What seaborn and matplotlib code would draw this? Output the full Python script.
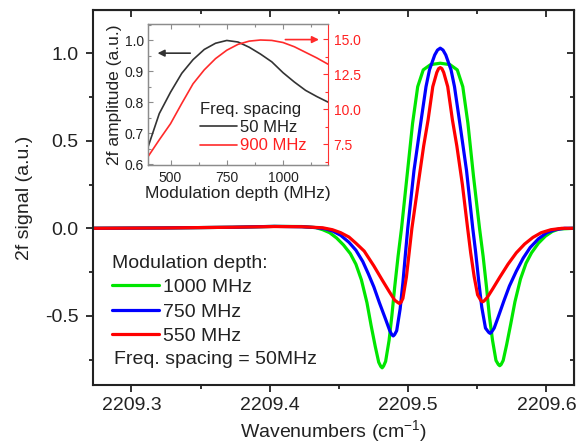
import matplotlib
matplotlib.use('Agg')
import matplotlib.pyplot as plt
import seaborn as sns
from matplotlib.ticker import MultipleLocator, FormatStrFormatter

# main panel: 2f signal vs wavenumber, one curve per modulation depth
wn_1000 = [2209.2700, 2209.3233, 2209.3733, 2209.4033, 2209.4233, 2209.4333, 2209.4383, 2209.4433,
           2209.4483, 2209.4533, 2209.4583, 2209.4623, 2209.4663, 2209.4703, 2209.4733, 2209.4763,
           2209.4788, 2209.4803, 2209.4813, 2209.4823, 2209.4838, 2209.4863, 2209.4883, 2209.4903,
           2209.4928, 2209.4953, 2209.4993, 2209.5033, 2209.5070, 2209.5110, 2209.5163, 2209.5233,
           2209.5303, 2209.5356, 2209.5396, 2209.5433, 2209.5473, 2209.5517, 2209.5543, 2209.5568,
           2209.5588, 2209.5611, 2209.5636, 2209.5653, 2209.5663, 2209.5673, 2209.5688, 2209.5713,
           2209.5743, 2209.5773, 2209.5813, 2209.5853, 2209.5893, 2209.5943, 2209.5993, 2209.6043,
           2209.6093, 2209.6200]
sig_1000 = [0.000, 0.002, 0.006, 0.011, 0.010, 0.004, -0.008, -0.025,
            -0.055, -0.095, -0.145, -0.205, -0.295, -0.425, -0.555, -0.675,
            -0.765, -0.789, -0.797, -0.787, -0.760, -0.640, -0.500, -0.340,
            -0.160, 0.000, 0.300, 0.600, 0.809, 0.905, 0.935, 0.943,
            0.935, 0.905, 0.809, 0.600, 0.300, 0.000, -0.160, -0.340,
            -0.500, -0.640, -0.755, -0.778, -0.785, -0.778, -0.755, -0.665,
            -0.545, -0.420, -0.290, -0.200, -0.140, -0.085, -0.045, -0.018,
            -0.004, 0.000]

wn_750 = [2209.2700, 2209.3233, 2209.3733, 2209.4033, 2209.4233, 2209.4333, 2209.4403, 2209.4453,
          2209.4513, 2209.4573, 2209.4623, 2209.4673, 2209.4713, 2209.4753, 2209.4793, 2209.4838,
          2209.4868, 2209.4883, 2209.4893, 2209.4903, 2209.4918, 2209.4943, 2209.4963, 2209.4983,
          2209.4998, 2209.5043, 2209.5095, 2209.5130, 2209.5155, 2209.5193, 2209.5213, 2209.5233,
          2209.5253, 2209.5273, 2209.5311, 2209.5336, 2209.5371, 2209.5423, 2209.5468, 2209.5488,
          2209.5511, 2209.5533, 2209.5560, 2209.5583, 2209.5593, 2209.5603, 2209.5623, 2209.5653,
          2209.5693, 2209.5733, 2209.5783, 2209.5833, 2209.5883, 2209.5943, 2209.6003, 2209.6063,
          2209.6133, 2209.6200]
sig_750 = [0.000, 0.002, 0.006, 0.011, 0.009, 0.004, -0.003, -0.015,
           -0.040, -0.080, -0.125, -0.190, -0.260, -0.335, -0.425, -0.520,
           -0.585, -0.608, -0.615, -0.607, -0.585, -0.460, -0.310, -0.130,
           0.000, 0.330, 0.619, 0.809, 0.905, 0.990, 1.018, 1.029,
           1.018, 0.990, 0.905, 0.809, 0.619, 0.330, 0.000, -0.130,
           -0.300, -0.450, -0.570, -0.594, -0.600, -0.594, -0.570, -0.505,
           -0.415, -0.330, -0.245, -0.170, -0.110, -0.060, -0.025, -0.008,
           0.000, 0.000]

wn_550 = [2209.2700, 2209.3233, 2209.3733, 2209.4033, 2209.4233, 2209.4383, 2209.4453, 2209.4513,
          2209.4573, 2209.4623, 2209.4683, 2209.4753, 2209.4813, 2209.4863, 2209.4903, 2209.4928,
          2209.4939, 2209.4950, 2209.4963, 2209.4988, 2209.5008, 2209.5028, 2209.5073, 2209.5113,
          2209.5145, 2209.5179, 2209.5208, 2209.5221, 2209.5233, 2209.5245, 2209.5258, 2209.5287,
          2209.5321, 2209.5353, 2209.5393, 2209.5431, 2209.5453, 2209.5478, 2209.5503, 2209.5528,
          2209.5539, 2209.5550, 2209.5573, 2209.5613, 2209.5663, 2209.5723, 2209.5783, 2209.5843,
          2209.5903, 2209.5963, 2209.6033, 2209.6113, 2209.6200]
sig_550 = [0.000, 0.002, 0.006, 0.010, 0.009, 0.003, -0.008, -0.025,
           -0.050, -0.085, -0.130, -0.215, -0.295, -0.360, -0.410, -0.425,
           -0.430, -0.422, -0.400, -0.280, -0.140, 0.000, 0.250, 0.470,
           0.619, 0.809, 0.890, 0.912, 0.918, 0.912, 0.890, 0.809,
           0.619, 0.470, 0.250, 0.000, -0.140, -0.275, -0.380, -0.414,
           -0.420, -0.415, -0.395, -0.345, -0.280, -0.205, -0.140, -0.090,
           -0.052, -0.025, -0.008, 0.000, 0.000]

depth_labels = ['1000 MHz', '750 MHz', '550 MHz']
depth_colors = ['#00e600', '#0000ff', '#ff0000']

# inset: 2f amplitude vs modulation depth
mod_depth = [400, 450, 500, 550, 600, 650, 700, 750, 800, 850, 900, 950, 1000, 1050, 1100, 1150, 1200]
amp_50 = [0.655, 0.763, 0.832, 0.893, 0.937, 0.970, 0.990, 0.999, 0.994, 0.977, 0.955, 0.930,
          0.895, 0.865, 0.838, 0.818, 0.800]
amp_900 = [6.6, 7.8, 8.95, 10.4, 11.8, 12.8, 13.6, 14.2, 14.62, 14.85, 14.93, 14.9, 14.75,
           14.45, 14.05, 13.65, 13.2]

sns.set_style('ticks')
plt.rcParams['font.family'] = ['Liberation Sans', 'DejaVu Sans']
plt.rcParams['mathtext.fontset'] = 'custom'
plt.rcParams['mathtext.rm'] = 'Liberation Sans'
plt.rcParams['axes.unicode_minus'] = False

ink = '#222222'
fig = plt.figure(figsize=(5.86, 4.46), dpi=100)
ax = fig.add_axes([0.1582, 0.1368, 0.8213, 0.8408])

for wn, sig, lab, col in zip([wn_1000, wn_750, wn_550], [sig_1000, sig_750, sig_550],
                             depth_labels, depth_colors):
    sns.lineplot(x=wn, y=sig, color=col, lw=2.3, ax=ax, sort=False, estimator=None,
                 label=lab, legend=False)

ax.set_xlim(2209.272, 2209.62)
ax.set_ylim(-0.895, 1.247)
ax.xaxis.set_major_locator(MultipleLocator(0.1))
ax.xaxis.set_minor_locator(MultipleLocator(0.05))
ax.xaxis.set_major_formatter(FormatStrFormatter('%.1f'))
ax.yaxis.set_major_locator(MultipleLocator(0.5))
ax.yaxis.set_minor_locator(MultipleLocator(0.25))
ax.yaxis.set_major_formatter(FormatStrFormatter('%.1f'))
ax.tick_params(which='both', direction='out', width=1.3, color=ink, labelsize=14,
               labelcolor=ink)
ax.tick_params(which='major', length=5)
ax.tick_params(which='minor', length=3)
ax.tick_params(axis='x', pad=4)
ax.tick_params(axis='y', pad=5)
for s in ax.spines.values():
    s.set_linewidth(1.5)
    s.set_color(ink)

# mirrored inward ticks on top and right
top = ax.secondary_xaxis('top')
top.xaxis.set_major_locator(MultipleLocator(0.1))
top.xaxis.set_minor_locator(MultipleLocator(0.05))
top.tick_params(which='both', direction='in', labeltop=False, width=1.3, color=ink)
top.tick_params(which='major', length=5)
top.tick_params(which='minor', length=3)
right = ax.secondary_yaxis('right')
right.yaxis.set_major_locator(MultipleLocator(0.5))
right.yaxis.set_minor_locator(MultipleLocator(0.25))
right.tick_params(which='both', direction='in', labelright=False, width=1.3, color=ink)
right.tick_params(which='major', length=5)
right.tick_params(which='minor', length=3)

ax.set_xlabel('Wavenumbers (cm$^{\\mathregular{-1}}$)', fontsize=14, color=ink, labelpad=3)
ax.set_ylabel('2f signal (a.u.)', fontsize=14, color=ink, labelpad=9)

leg = ax.legend(handles=ax.lines[:3], labels=depth_labels, title='Modulation depth:',
                loc='upper left', bbox_to_anchor=(0.04, 0.347), frameon=False,
                fontsize=14, title_fontsize=14, handlelength=2.4, handletextpad=0.2,
                labelspacing=0.35, borderpad=0, borderaxespad=0, alignment='left')
for t in leg.get_texts():
    t.set_color(ink)
leg.get_title().set_color(ink)
ax.text(0.044, 0.068, 'Freq. spacing = 50MHz', transform=ax.transAxes, fontsize=14,
        color=ink, va='center', ha='left')

# inset
grey = '#8c8c8c'
ax2 = fig.add_axes([0.2526, 0.630, 0.3072, 0.3161])
ax3 = ax2.twinx()
sns.lineplot(x=mod_depth, y=amp_50, color='#333333', lw=1.2, ax=ax2, legend=False)
sns.lineplot(x=mod_depth, y=amp_900, color='#ff2a2a', lw=1.2, ax=ax3, legend=False)

ax2.set_xlim(400, 1200)
ax2.set_ylim(0.597, 1.052)
ax3.set_ylim(6.0, 16.07)
ax2.xaxis.set_major_locator(MultipleLocator(250))
ax2.xaxis.set_minor_locator(MultipleLocator(125))
ax2.yaxis.set_major_locator(MultipleLocator(0.1))
ax2.yaxis.set_minor_locator(MultipleLocator(0.05))
ax3.yaxis.set_major_locator(MultipleLocator(2.5))
ax3.yaxis.set_minor_locator(MultipleLocator(1.25))
ax2.tick_params(which='both', direction='in', top=True, color=grey, labelsize=10,
                labelcolor=ink, width=0.8)
ax2.tick_params(which='major', length=3.5)
ax2.tick_params(which='minor', length=2)
ax2.tick_params(axis='y', pad=3)
ax2.tick_params(axis='x', pad=4)
ax3.tick_params(which='both', direction='in', color='#ff3030', labelsize=10,
                labelcolor='#ff2020', width=0.8, pad=4)
ax3.tick_params(which='major', length=3.5)
ax3.tick_params(which='minor', length=2)
for name in ['left', 'top', 'bottom']:
    ax2.spines[name].set_color(grey)
    ax3.spines[name].set_color(grey)
    ax2.spines[name].set_linewidth(0.9)
    ax3.spines[name].set_linewidth(0.9)
ax3.spines['right'].set_color('#ff3030')
ax2.spines['right'].set_visible(False)
ax2.set_ylabel('2f amplitude (a.u.)', fontsize=12.5, color=ink, labelpad=2)
ax2.set_xlabel('Modulation depth (MHz)', fontsize=12.5, color=ink, labelpad=1)
ax3.set_ylabel('')

ax2.annotate('', xy=(430, 0.958), xytext=(600, 0.958),
             arrowprops=dict(arrowstyle='-|>', color='#333333', lw=1.2, mutation_scale=10))
ax3.annotate('', xy=(1172, 14.96), xytext=(998, 14.96),
             arrowprops=dict(arrowstyle='-|>', color='#ff2a2a', lw=1.2, mutation_scale=10))

leg2 = ax3.legend(handles=[ax2.lines[0], ax3.lines[0]], labels=['50 MHz', '900 MHz'],
                  title='Freq. spacing', loc='upper left', bbox_to_anchor=(0.29, 0.449),
                  frameon=False, fontsize=12, title_fontsize=12, handlelength=2.2,
                  handletextpad=0.2, labelspacing=0.2, borderpad=0, borderaxespad=0,
                  alignment='left')
leg2.get_texts()[0].set_color(ink)
leg2.get_texts()[1].set_color('#ff2020')
leg2.get_title().set_color(ink)

fig.savefig('out.png', dpi=100)
